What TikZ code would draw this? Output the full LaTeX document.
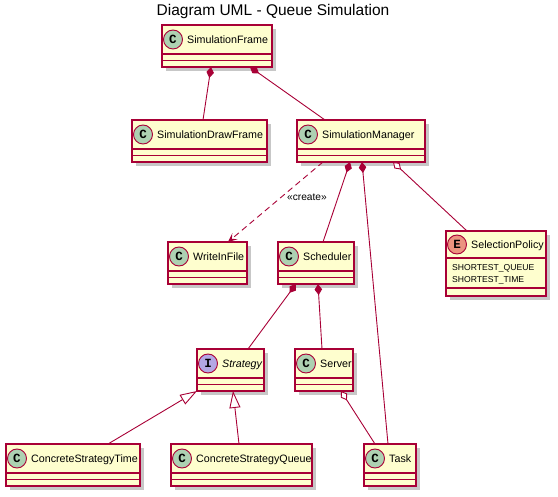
\documentclass[tikz,border=0pt]{standalone}
\usepackage{fontspec}
\setmainfont{Liberation Sans}
\newfontfamily\spotfont{Liberation Mono}
\usetikzlibrary{arrows.meta,shadows,calc}
\definecolor{umlborder}{HTML}{A80036}
\definecolor{umlfill}{HTML}{FEFECE}
\definecolor{spotc}{HTML}{ADD1B2}
\definecolor{spoti}{HTML}{B4A7E5}
\definecolor{spote}{HTML}{EB937F}
\tikzset{
 classbox/.style={draw=umlborder, fill=umlfill, line width=1.3pt, inner sep=0pt, outer sep=0pt,
   drop shadow={shadow xshift=4pt, shadow yshift=-4pt, fill=black, opacity=0.22}},
 sepline/.style={draw=umlborder, line width=1.3pt},
 spot/.style={circle, draw=umlborder, line width=0.9pt, minimum size=19pt, inner sep=0pt,
   font=\spotfont\bfseries\fontsize{12.5}{12.5}\selectfont},
 cname/.style={anchor=base west, inner sep=0pt, font=\fontsize{10.7}{12}\selectfont},
 attr/.style={anchor=base west, inner sep=0pt, font=\fontsize{8.6}{10}\selectfont},
 lbl/.style={inner sep=0pt, font=\fontsize{10.2}{12}\selectfont},
 link/.style={draw=umlborder, line width=0.9pt},
 comp/.style={link, {Diamond[length=11pt,width=7.5pt,fill=umlborder]}-},
 aggr/.style={link, {Diamond[open,length=11pt,width=7.5pt,fill=white]}-},
 ext/.style={link, -{Triangle[open,length=17pt,width=11pt,fill=white]}},
 dep/.style={link, dash pattern=on 6pt off 4pt, -{Stealth[length=9pt,width=8pt,inset=4pt]}},
}
% #1 name, #2 x1, #3 y1, #4 x2, #5 y2, #6 letter, #7 spot colour, #8 text
\newcommand\umlclass[8]{%
 \node[classbox, minimum width={#4-#2}, minimum height={#5-#3}] (#1) at ({(#2+#4)/2},{(#3+#5)/2}) {};
 \draw[sepline] ([yshift=-29pt]#1.north west) -- ([yshift=-29pt]#1.north east);
 \draw[sepline] ([yshift=-35.5pt]#1.north west) -- ([yshift=-35.5pt]#1.north east);
 \node[spot, fill=#7] (#1-spot) at ([xshift=11pt,yshift=-14.5pt]#1.north west) {#6};
 \node[cname] (#1-name) at ([xshift=25pt,yshift=-18.5pt]#1.north west) {#8};
}
\begin{document}
\begin{tikzpicture}[x=1pt,y=-1pt]
\useasboundingbox (0,0) rectangle (558,497);
\node[font=\fontsize{15.5}{18}\selectfont] (title) at (273,11) {Diagram UML - Queue Simulation};

\umlclass{sf}{162}{25}{272}{67}{C}{spotc}{SimulationFrame}
\umlclass{sdf}{132}{120}{267}{162}{C}{spotc}{SimulationDrawFrame}
\umlclass{sm}{297}{120}{425}{162}{C}{spotc}{SimulationManager}
\umlclass{wif}{168}{242}{247}{284}{C}{spotc}{WriteInFile}
\umlclass{sch}{278}{242}{354}{284}{C}{spotc}{Scheduler}
\umlclass{str}{197}{349}{264}{391}{I}{spoti}{\itshape Strategy}
\umlclass{srv}{295}{349}{353}{391}{C}{spotc}{Server}
\umlclass{cst}{6}{444}{140}{486}{C}{spotc}{ConcreteStrategyTime}
\umlclass{csq}{171}{444}{312}{486}{C}{spotc}{ConcreteStrategyQueue}
\umlclass{task}{364}{444}{416}{486}{C}{spotc}{Task}

% enum SelectionPolicy
\node[classbox, minimum width=100pt, minimum height=65pt] (sp) at (496,263.5) {};
\draw[sepline] ([yshift=-27pt]sp.north west) -- ([yshift=-27pt]sp.north east);
\draw[sepline] ([yshift=-57pt]sp.north west) -- ([yshift=-57pt]sp.north east);
\node[spot, fill=spote] (sp-spot) at ([xshift=11pt,yshift=-13.5pt]sp.north west) {E};
\node[cname] (sp-name) at ([xshift=25pt,yshift=-17.5pt]sp.north west) {SelectionPolicy};
\node[attr] (sp-a1) at ([xshift=6pt,yshift=-39.5pt]sp.north west) {SHORTEST\_QUEUE};
\node[attr] (sp-a2) at ([xshift=6pt,yshift=-51.5pt]sp.north west) {SHORTEST\_TIME};

% connectors
\draw[comp] ([xshift=-6pt]sf.south) -- ([xshift=3.5pt]sdf.north);
\draw[comp] ([xshift=33pt]sf.south) -- ([xshift=-36pt]sm.north);
\draw[dep] ([xshift=-38pt]sm.south) -- ([xshift=20.5pt]wif.north);
\node[lbl] (create) at (307,197) {«create»};
\draw[comp] ([xshift=-11pt]sm.south) -- ([xshift=7pt]sch.north);
\draw[comp] ([xshift=1pt]sm.south) -- ([xshift=-2pt]task.north);
\draw[aggr] ([xshift=32pt]sm.south) -- ([xshift=-29pt]sp.north);
\draw[comp] ([xshift=-20pt]sch.south) -- ([xshift=17.5pt]str.north);
\draw[comp] ([xshift=2pt]sch.south) -- ([xshift=-2pt]srv.north);
\draw[ext] ([xshift=35pt]cst.north) -- ([xshift=-33.5pt]str.south);
\draw[ext] ([xshift=-2.5pt]csq.north) -- ([xshift=2.5pt]str.south);
\draw[aggr] ([xshift=17pt]srv.south) -- ([xshift=-15pt]task.north);
\end{tikzpicture}
\end{document}
